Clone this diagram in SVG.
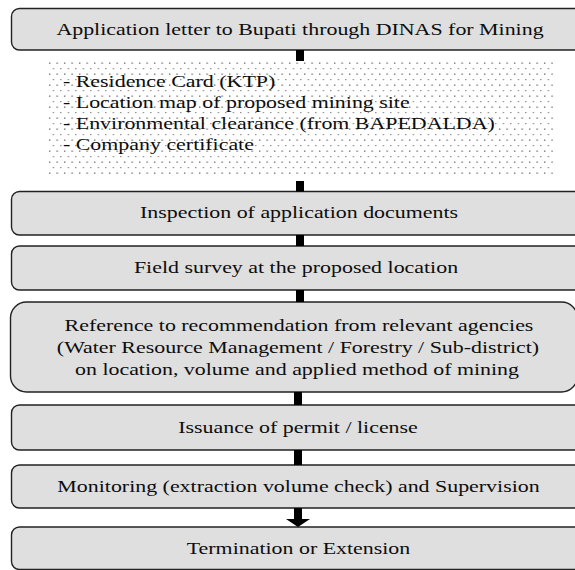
<svg xmlns="http://www.w3.org/2000/svg" width="575" height="570" viewBox="0 0 575 570">
  <defs>
    <pattern id="dots" x="48" y="61" width="7.5" height="11" patternUnits="userSpaceOnUse">
      <rect x="1" y="1.5" width="1.3" height="1.3" fill="#5e5e5e"/>
      <rect x="4.75" y="7" width="1.2" height="1.2" fill="#777"/>
    </pattern>
  </defs>
  <style>
    .box { fill: #dfdfdf; stroke: #222; stroke-width: 1.4; }
    .lbl { font-family: "Liberation Serif", "Times New Roman", serif; font-size: 16px; fill: #0d0d0d; text-anchor: middle; }
    .item { font-family: "Liberation Serif", "Times New Roman", serif; font-size: 16px; fill: #0d0d0d; }
    .link { fill: #000; }
  </style>
  <rect width="575" height="570" fill="#fff"/>

  <g id="n-application">
    <rect class="box" x="11.5" y="8.5" width="580" height="41.5" rx="8"/>
    <text class="lbl" transform="translate(300 35) scale(1.37 1)">Application letter to Bupati through DINAS for Mining</text>
  </g>

  <g id="n-documents">
    <rect x="48" y="61" width="505" height="115" fill="url(#dots)"/>
    <text class="item" transform="translate(63 87) scale(1.37 1)">- Residence Card (KTP)</text>
    <text class="item" transform="translate(63 108) scale(1.37 1)">- Location map of proposed mining site</text>
    <text class="item" transform="translate(63 129) scale(1.37 1)">- Environmental clearance (from BAPEDALDA)</text>
    <text class="item" transform="translate(63 150) scale(1.37 1)">- Company certificate</text>
  </g>

  <g id="n-inspection">
    <rect class="box" x="11.5" y="191.5" width="580" height="43.5" rx="8"/>
    <text class="lbl" transform="translate(299 218) scale(1.37 1)">Inspection of application documents</text>
  </g>

  <g id="n-survey">
    <rect class="box" x="11.5" y="246" width="580" height="44" rx="8"/>
    <text class="lbl" transform="translate(296 273) scale(1.37 1)">Field survey at the proposed location</text>
  </g>

  <g id="n-recommendation">
    <rect class="box" x="10.5" y="302" width="567" height="90" rx="16"/>
    <text class="lbl" transform="translate(299 331) scale(1.37 1)">Reference to recommendation from relevant agencies</text>
    <text class="lbl" transform="translate(298 353) scale(1.37 1)">(Water Resource Management / Forestry / Sub-district)</text>
    <text class="lbl" transform="translate(297 375) scale(1.37 1)">on location, volume and applied method of mining</text>
  </g>

  <g id="n-permit">
    <rect class="box" x="11.5" y="405" width="580" height="45" rx="8"/>
    <text class="lbl" transform="translate(298 433) scale(1.37 1)">Issuance of permit / license</text>
  </g>

  <g id="n-monitoring">
    <rect class="box" x="11.5" y="465" width="580" height="43" rx="8"/>
    <text class="lbl" transform="translate(298.5 492) scale(1.37 1)">Monitoring (extraction volume check) and Supervision</text>
  </g>

  <g id="n-termination">
    <rect class="box" x="11.5" y="527" width="580" height="42.5" rx="8"/>
    <text class="lbl" transform="translate(298.5 554) scale(1.37 1)">Termination or Extension</text>
  </g>

  <g id="connectors">
    <rect class="link" x="296" y="50" width="8" height="11"/>
    <rect class="link" x="296" y="181" width="8" height="10.5"/>
    <rect class="link" x="296" y="235" width="8" height="11"/>
    <rect class="link" x="296" y="290" width="8" height="12"/>
    <rect class="link" x="294" y="392" width="8" height="13"/>
    <rect class="link" x="294" y="450" width="8" height="15"/>
    <rect class="link" x="294" y="508" width="8" height="12"/>
    <polygon class="link" points="286,519 310,519 298,527"/>
  </g>
</svg>
